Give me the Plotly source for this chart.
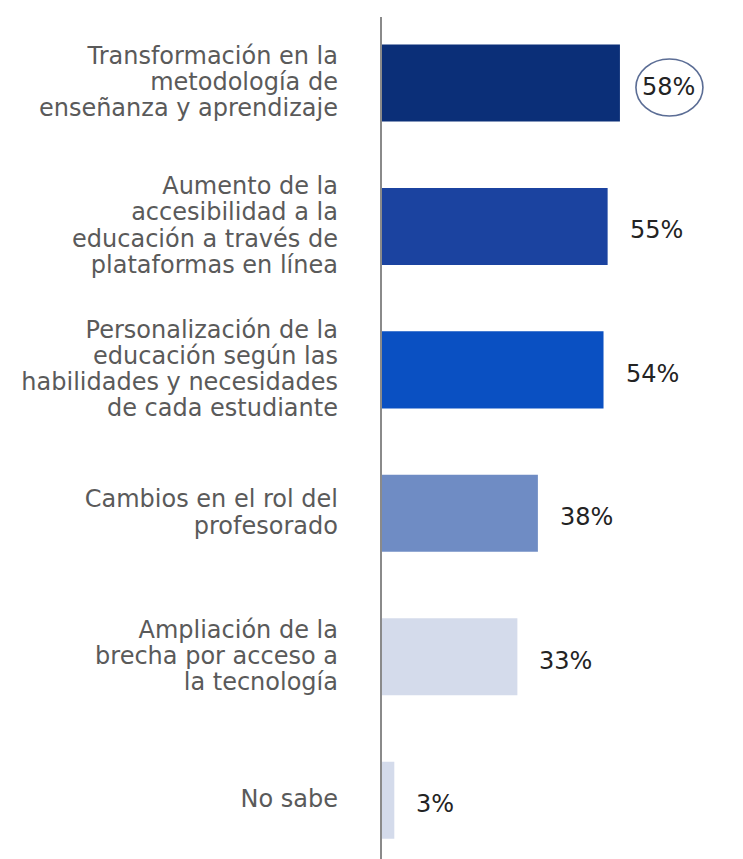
import plotly.graph_objects as go

categories = [
    "Transformación en la<br>metodología de<br>enseñanza y aprendizaje",
    "Aumento de la<br>accesibilidad a la<br>educación a través de<br>plataformas en línea",
    "Personalización de la<br>educación según las<br>habilidades y necesidades<br>de cada estudiante",
    "Cambios en el rol del<br>profesorado",
    "Ampliación de la<br>brecha por acceso a<br>la tecnología",
    "No sabe",
]
values = [58, 55, 54, 38, 33, 3]
value_labels = ["58%", "55%", "54%", "38%", "33%", "3%"]
bar_colors = ["#0b2f78", "#1b43a0", "#0a50c2", "#6f8cc4", "#d4dbeb", "#d4dbeb"]

FONT = "DejaVu Sans, Verdana, sans-serif"
LABEL_PX = 24
BASE_PX = 20.2

def big(label):
    return "<br>".join(
        f"<span style='font-size:{LABEL_PX}px'>{line}</span>" for line in label.split("<br>")
    )

tick_text = [big(c) for c in categories]

fig = go.Figure()
fig.add_trace(go.Bar(
    x=values,
    y=list(range(len(categories))),
    orientation="h",
    marker=dict(color=bar_colors, line=dict(width=0)),
    hoverinfo="skip",
))

for i, (v, t) in enumerate(zip(values, value_labels)):
    fig.add_annotation(
        x=v, y=i, xref="x", yref="y", text=t, showarrow=False,
        xanchor="left", yanchor="middle", xshift=20, yshift=-4,
        font=dict(family=FONT, size=24, color="#232323"),
    )

# highlight ellipse around the top value
fig.add_shape(
    type="circle", xref="x", yref="y",
    xsizemode="pixel", ysizemode="pixel",
    xanchor=values[0], yanchor=0,
    x0=16, x1=83, y0=-33, y1=24,
    line=dict(color="#5b6d95", width=1.6),
    fillcolor="rgba(0,0,0,0)",
)

fig.update_layout(
    width=735, height=851,
    margin=dict(l=374, r=0, t=9, b=0, autoexpand=False),
    paper_bgcolor="white", plot_bgcolor="white",
    bargap=0.463,
    showlegend=False,
    xaxis=dict(range=[0, 88], visible=False, fixedrange=True),
    yaxis=dict(
        tickmode="array",
        tickvals=list(range(len(categories))),
        ticktext=tick_text,
        range=[5.41, -0.46],
        showline=True, linecolor="#8a8a8a", linewidth=2,
        showgrid=False, zeroline=False, ticks="",
        ticklabelstandoff=38,
        automargin=False,
        tickfont=dict(family=FONT, size=BASE_PX, color="#5a5a5a"),
    ),
)

fig.write_html("out.html")
